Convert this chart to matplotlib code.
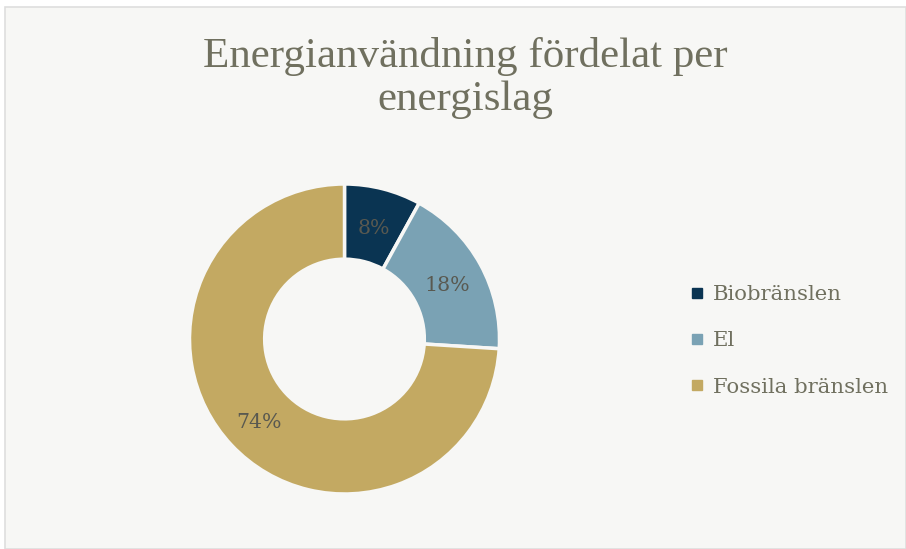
import matplotlib
matplotlib.use("Agg")
import matplotlib.pyplot as plt
import matplotlib.transforms as mtransforms
from matplotlib.lines import Line2D
from matplotlib.patches import Rectangle

# ---------------------------------------------------------------------------
# Data
# ---------------------------------------------------------------------------
categories = ["Biobränslen", "El", "Fossila bränslen"]
shares = [8, 18, 74]
colors = ["#0a3452", "#7aa2b4", "#c3a962"]

title = "Energianvändning fördelat per\nenergislag"

BG = "#f7f7f5"
TEXT = "#70705f"
LABEL = "#595950"

W, H = 906, 549
fig = plt.figure(figsize=(W / 100, H / 100), dpi=100, facecolor="white")

# chart area panel with thin border (behind everything)
fig.patches.append(Rectangle((5 / W, 0), 1 - 5 / W, 1 - 7 / H,
                             transform=fig.transFigure, facecolor=BG,
                             edgecolor="#dedede", linewidth=1.2, zorder=-5))

fig.text(465 / W, 1 - 78 / H, title, ha="center", va="center",
         family="Liberation Serif", fontsize=31, color=TEXT,
         linespacing=1.12)

# ── Donut ──────────────────────────────────────────────────────────────────
cx, cy, r = 344.5, 339, 155
ax = fig.add_axes([(cx - r) / W, (H - cy - r) / H, 2 * r / W, 2 * r / H])
ax.set_facecolor("none")
ax.set_zorder(2)
wedges, texts, autotexts = ax.pie(
    shares, colors=colors, startangle=90, counterclock=False, radius=1,
    autopct="%d%%", pctdistance=0.757,
    wedgeprops=dict(width=0.485, edgecolor=BG, linewidth=2.5),
    textprops=dict(family="DejaVu Serif", fontsize=14.8, color=LABEL),
)
# nudge the percentage labels down a touch
shift = mtransforms.offset_copy(ax.transData, fig=fig, x=0, y=-3, units="dots")
for t in autotexts:
    t.set_transform(shift)
ax.set_xlim(-1, 1)
ax.set_ylim(-1, 1)
ax.set_aspect("equal")
ax.axis("off")

# ── Legend ─────────────────────────────────────────────────────────────────
handles = [Line2D([], [], marker="s", linestyle="none", markersize=7,
                  markerfacecolor=c, markeredgecolor=c) for c in colors]
fig.legend(handles, categories, loc="center left",
           bbox_to_anchor=(682 / W, 1 - 341 / H), frameon=False,
           prop=dict(family="DejaVu Serif", size=15.3),
           labelcolor=TEXT, handlelength=0.6, handletextpad=0.45,
           labelspacing=1.28, borderaxespad=0)

fig.savefig("out.png", dpi=100, facecolor="white")
